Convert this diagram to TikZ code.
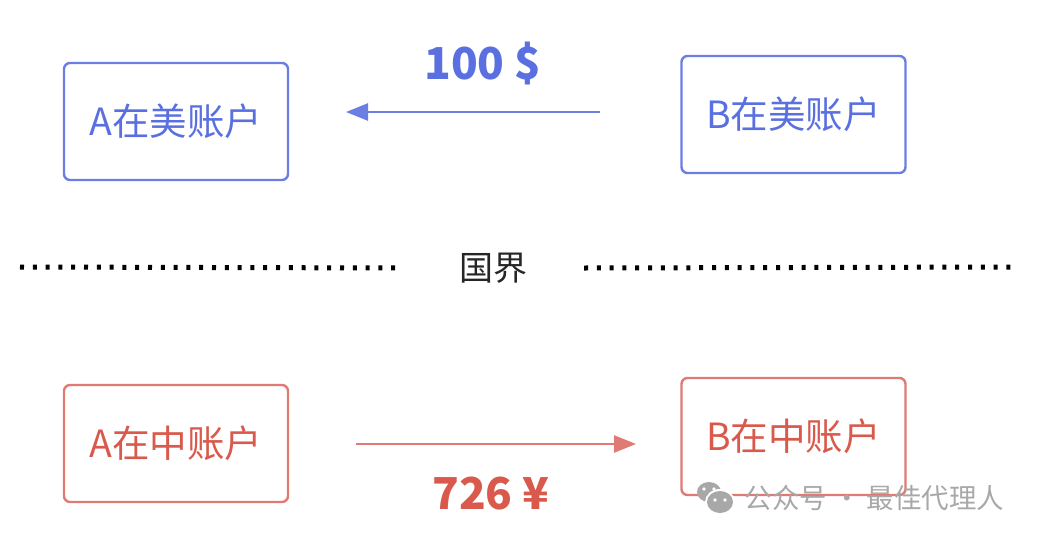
\documentclass[tikz,border=0pt]{standalone}
\usepackage{fontspec}
\setmainfont{Noto Sans CJK SC}
\usetikzlibrary{arrows.meta}
\definecolor{usblue}{HTML}{5A70E0}
\definecolor{usline}{HTML}{6B7FE2}
\definecolor{cnred}{HTML}{D95A4C}
\definecolor{cnline}{HTML}{E07B73}
\definecolor{markgray}{HTML}{A8A8A8}
\begin{document}
\begin{tikzpicture}[x=1pt, y=-1pt,
    acct/.style={draw, line width=2.4pt, rounded corners=6pt, minimum width=224pt, minimum height=117pt, inner sep=0pt, font=\fontsize{37.5}{42}\selectfont},
    usacct/.style={acct, draw=usline, text=usblue},
    cnacct/.style={acct, draw=cnline, text=cnred},
    amount/.style={font=\fontsize{44}{50}\selectfont\bfseries},
    flow/.style={line width=2.6pt, -{Triangle[length=22pt, width=17pt]}},
    border/.style={line width=5pt, dash pattern=on 4pt off 8.8pt}]
  \useasboundingbox (0,0) rectangle (1038,541);
  % accounts in the US
  \node[usacct] (aus) at (176,121.5) {A在美账户};
  \node[usacct] (bus) at (793.5,114.5) {B在美账户};
  \coordinate (usfrom) at (600,112);
  \coordinate (usto) at (346,112);
  \draw[flow, usline] (usfrom) -- (usto);
  \node[amount, text=usblue] (usd) at (483,64) {100 \$};
  % the border
  \node[font=\fontsize{34}{40}\selectfont, text=black!85] (line) at (493,268) {国界};
  \coordinate (lineL) at (20,267);
  \coordinate (lineR) at (1018,267);
  \draw[border] (lineL) -- (line.west -| 402,267);
  \draw[border] (line.east -| 584,267) -- (lineR);
  % accounts in China
  \node[cnacct] (acn) at (176,443.5) {A在中账户};
  \node[cnacct] (bcn) at (793.5,436.5) {B在中账户};
  \coordinate (cnfrom) at (356,444);
  \coordinate (cnto) at (636,444);
  \draw[flow, cnline] (cnfrom) -- (cnto);
  \node[amount, text=cnred] (cny) at (491,494) {726 ¥};
  % watermark
  \fill[markgray] (709,492) ellipse (12pt and 10pt);
  \fill[white] (720,502) ellipse (15pt and 13pt);
  \fill[markgray] (720,502) ellipse (13pt and 11pt);
  \fill[white] (704,489) circle (1.8pt) (714,489) circle (1.8pt);
  \fill[white] (715,500) circle (1.8pt) (725,500) circle (1.8pt);
  \node[anchor=west, text=markgray, font=\fontsize{27.5}{32}\selectfont] (mark) at (741,498) {公众号 · 最佳代理人};
\end{tikzpicture}
\end{document}
